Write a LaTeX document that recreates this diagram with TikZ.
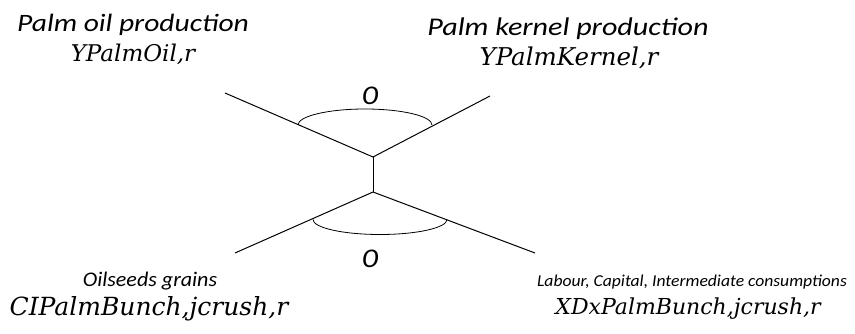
\documentclass[tikz,border=0pt]{standalone}
\usepackage{fontspec}
\newfontfamily\labfont[FakeStretch=1.18]{Carlito}
\newfontfamily\smallfont[FakeStretch=1.06]{Carlito}
\newfontfamily\varfont{DejaVu Serif}
\tikzset{
    labtext/.style={font=\labfont\itshape\fontsize{25}{28}\selectfont, inner sep=0pt, anchor=base},
    smalltext/.style={font=\smallfont\itshape\fontsize{20.8}{23}\selectfont, inner sep=0pt, anchor=base},
    vartext/.style={font=\varfont\itshape\fontsize{23}{26}\selectfont, inner sep=0pt, anchor=base},
    elastic/.style={font=\labfont\itshape\fontsize{27}{30}\selectfont, inner sep=0pt, anchor=base},
}

\begin{document}
\begin{tikzpicture}[x=1pt,y=-1pt,line width=1pt]
        \useasboundingbox (0,0) rectangle (855,334);
        % nest junctions
        \coordinate (topnest) at (373,157);
        \coordinate (botnest) at (373,192);
        \coordinate (oilend) at (225,93);
        \coordinate (kernelend) at (490,96);
        \coordinate (ciend) at (235,253);
        \coordinate (xdend) at (535,253);
        \draw (oilend) -- (topnest) -- (kernelend);
        \draw (topnest) -- (botnest);
        \draw (ciend) -- (botnest) -- (xdend);
        % elasticity arcs
        \draw[line width=0.8pt] (298,125) arc[start angle=180,end angle=360,x radius=67,y radius=16];
        \draw[line width=0.8pt] (313,219.5) arc[start angle=180,end angle=0,x radius=67,y radius=15];
        \node[elastic] (sigtop) at (370,105) {0};
        \node[elastic] (sigbot) at (370,267) {0};
        % outputs
        \node[labtext] (oillab) at (133,32) {Palm oil production};
        \node[vartext] (oilvar) at (133,61.5) {YPalmOil,r};
        \node[labtext,font=\labfont\itshape\fontsize{25.5}{28}\selectfont] (kernellab) at (568,36) {Palm kernel production};
        \node[vartext,font=\varfont\itshape\fontsize{24.5}{27}\selectfont] (kernelvar) at (569,66) {YPalmKernel,r};
        % inputs
        \node[smalltext] (cilab) at (150,286) {Oilseeds grains};
        \node[vartext,font=\varfont\itshape\fontsize{25}{28}\selectfont] (civar) at (149,315) {CIPalmBunch,jcrush,r};
        \node[smalltext,font=\smallfont\itshape\fontsize{16.6}{19}\selectfont] (xdlab) at (692,286) {Labour, Capital, Intermediate consumptions};
        \node[vartext,font=\varfont\itshape\fontsize{22}{25}\selectfont] (xdvar) at (688,314) {XDxPalmBunch,jcrush,r};
    \end{tikzpicture}
\end{document}
